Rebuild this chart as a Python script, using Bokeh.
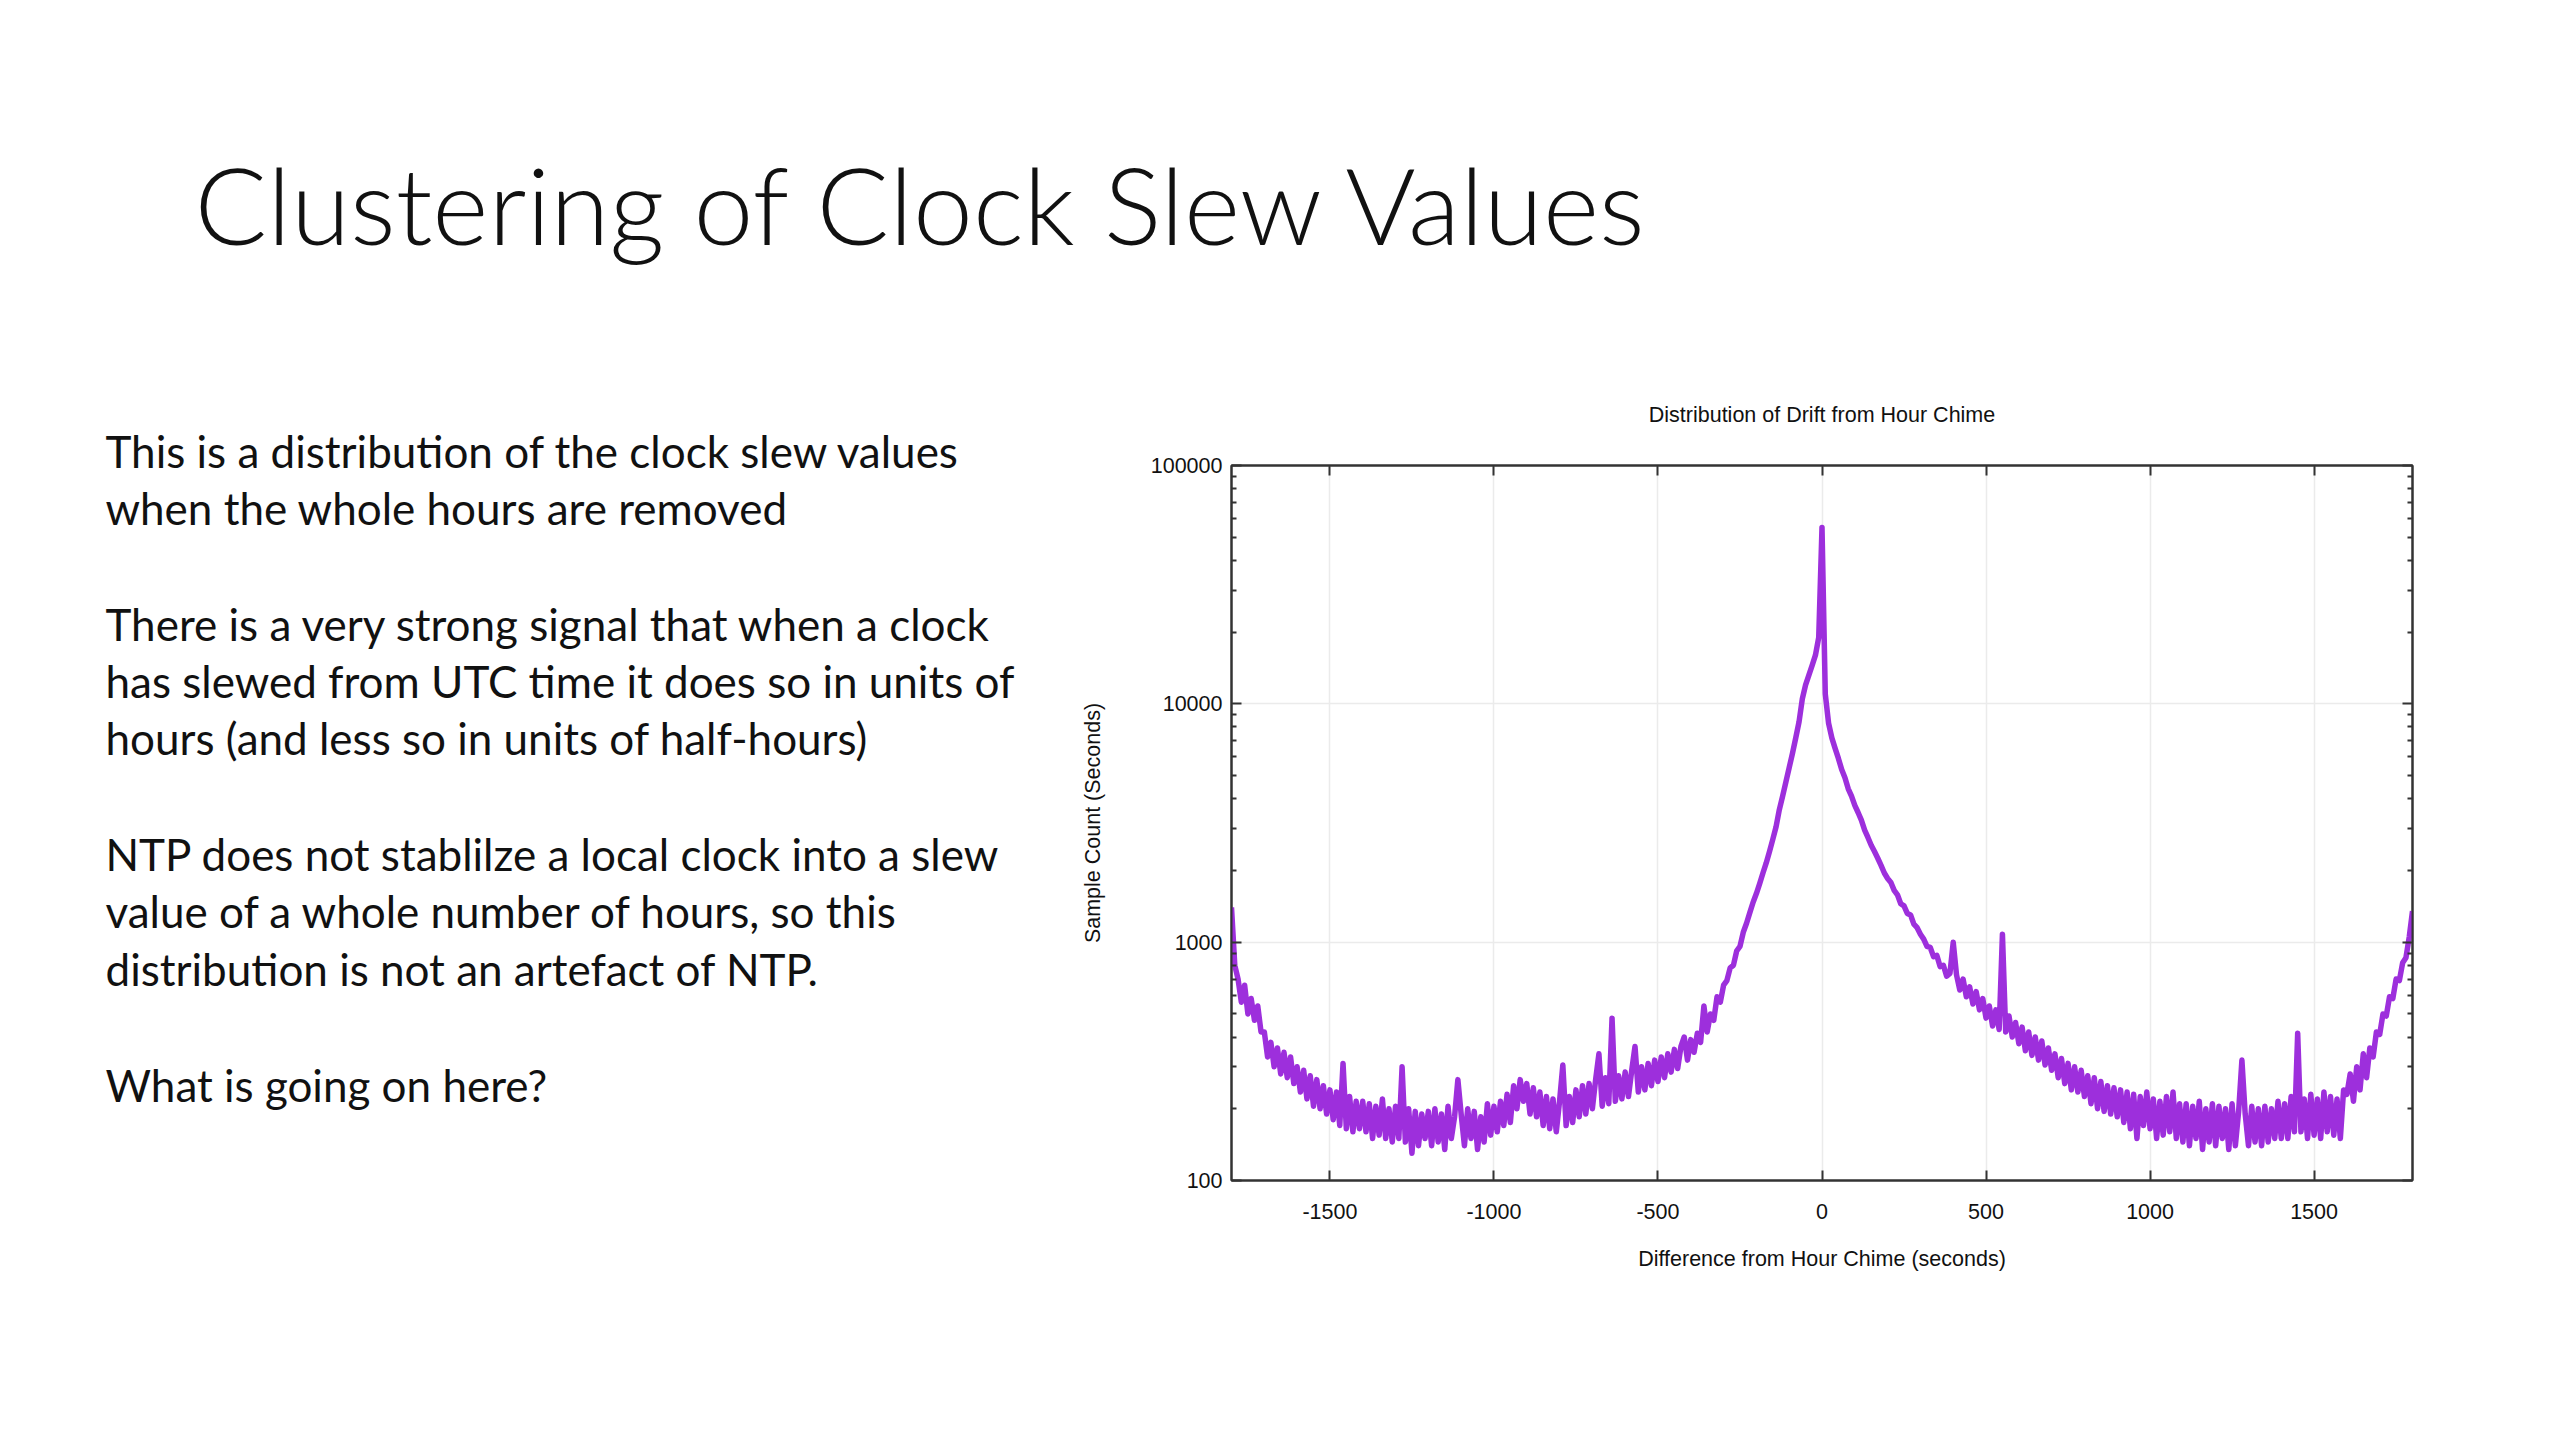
import numpy as np
from bokeh.plotting import figure
from bokeh.layouts import column, row
from bokeh.models import Range1d, FixedTicker, NumeralTickFormatter, LinearAxis, LogAxis, ColumnDataSource
from bokeh.core.properties import value
from bokeh.embed import file_html
from bokeh.resources import INLINE

# ---------------- data ----------------
slide_title = "Clustering of Clock Slew Values"
body_lines = [
    "This is a distribution of the clock slew values",
    "when the whole hours are removed",
    "There is a very strong signal that when a clock",
    "has slewed from UTC time it does so in units of",
    "hours (and less so in units of half-hours)",
    "NTP does not stablilze a local clock into a slew",
    "value of a whole number of hours, so this",
    "distribution is not an artefact of NTP.",
    "What is going on here?",
]
chart_title = "Distribution of Drift from Hour Chime"
x_label = "Difference from Hour Chime (seconds)"
y_label = "Sample Count (Seconds)"

bin_step = 10  # seconds per bin
# counts for bins -1800 .. -10
counts_left = [
    1400, 800, 700, 560, 660, 500, 580, 470, 540, 420,
    420, 330, 380, 300, 360, 280, 345, 270, 330, 255,
    300, 235, 290, 220, 275, 205, 265, 200, 250, 190,
    240, 180, 235, 170, 310, 165, 225, 160, 215, 165,
    215, 160, 210, 150, 205, 155, 220, 150, 200, 145,
    205, 150, 300, 145, 200, 130, 195, 140, 190, 150,
    195, 140, 200, 145, 190, 135, 205, 150, 185, 265,
    190, 140, 200, 150, 195, 135, 185, 145, 210, 155,
    205, 160, 215, 170, 230, 175, 250, 200, 265, 215,
    255, 190, 245, 185, 235, 170, 225, 165, 220, 160,
    215, 305, 170, 225, 175, 240, 185, 250, 190, 255,
    200, 265, 340, 205, 270, 210, 480, 215, 275, 220,
    285, 225, 290, 365, 235, 300, 240, 310, 250, 320,
    260, 330, 270, 340, 285, 355, 295, 365, 400, 320,
    390, 345, 415, 380, 540, 420, 500, 470, 590, 560,
    660, 690, 780, 800, 920, 960, 1100, 1200, 1330, 1470,
    1600, 1760, 1950, 2150, 2400, 2700, 3050, 3600, 4100, 4700,
    5400, 6200, 7200, 8400, 10500, 12000, 13200, 14500, 16000, 19000,
]
count_zero = [55000]
# counts for bins +10 .. +1800
counts_right = [
    11000, 8300, 7200, 6500, 5900, 5300, 4900, 4400, 4100, 3750,
    3500, 3250, 2950, 2750, 2550, 2400, 2250, 2100, 1950, 1850,
    1780, 1650, 1580, 1450, 1420, 1320, 1300, 1190, 1150, 1080,
    1030, 960, 950, 870, 880, 790, 800, 720, 740, 1000,
    730, 630, 700, 590, 650, 550, 620, 520, 580, 480,
    540, 445, 520, 430, 1080, 420, 490, 400, 460, 375,
    440, 350, 420, 335, 400, 320, 385, 305, 360, 290,
    340, 270, 325, 255, 310, 240, 300, 235, 290, 225,
    275, 210, 270, 200, 260, 195, 250, 190, 245, 185,
    240, 175, 235, 165, 230, 150, 225, 170, 235, 165,
    220, 150, 215, 155, 225, 160, 235, 150, 210, 145,
    210, 140, 205, 150, 215, 135, 200, 145, 210, 140,
    205, 150, 200, 135, 210, 140, 195, 320, 190, 140,
    205, 145, 200, 140, 205, 145, 200, 150, 215, 150,
    210, 150, 225, 160, 415, 160, 220, 150, 230, 155,
    220, 150, 235, 160, 225, 155, 220, 150, 240, 230,
    280, 215, 300, 240, 340, 270, 360, 330, 420, 410,
    500, 490, 590, 580, 700, 690, 820, 860, 1050, 1350,
]
x_ticks = [-1500, -1000, -500, 0, 500, 1000, 1500]
y_ticks = [100, 1000, 10000, 100000]
y_minor_mantissas = [2, 3, 4, 5, 6, 7, 8, 9]

counts = counts_left + count_zero + counts_right
n_left = len(counts_left)
bins = [bin_step * (i - n_left) for i in range(len(counts))]

# ---------------- layout (page px) ----------------
PAGE_W, PAGE_H = 2544, 1424
TOP_H = 380          # slide-title strip
LEFT_W = 1050        # body-text column
CT_H = 60            # chart-title strip above the chart
BODY_H = PAGE_H - TOP_H
FRAME_L, FRAME_R, FRAME_T, FRAME_B = 1231, 2412, 465, 1180

CHART_FONT = "Liberation Sans"
CHART_FS = "21.5px"


def no_align(f):
    if "frame_align" in f.properties():
        f.frame_align = False
    return f


def text_fig(w, h):
    f = figure(frame_width=w, frame_height=h, x_range=Range1d(0, w), y_range=Range1d(0, h),
               output_backend="svg", toolbar_location=None, min_border=0,
               x_axis_location=None, y_axis_location=None, title=None)
    f.outline_line_color = None
    f.grid.visible = False
    f.background_fill_color = "white"
    f.border_fill_color = "white"
    return no_align(f)


# slide title strip (page y measured from the top, converted to panel y)
top = text_fig(PAGE_W, TOP_H)
top.text(x=[194], y=[TOP_H - 203], text=[slide_title], text_font=value("Lato Light"),
         text_font_size="107.5px", text_color="#111111", text_baseline="alphabetic",
         text_align="left")

# body text column
left = text_fig(LEFT_W, BODY_H)
body_baselines = [466, 523, 639, 696, 753, 869, 926, 984, 1100]
left.text(x=[105] * len(body_lines), y=[BODY_H - (b - 16 - TOP_H) for b in body_baselines],
          text=body_lines, text_font=value("Lato"), text_font_size="44px",
          text_color="#111111", text_baseline="alphabetic", text_align="left")

# chart title strip
chart_w = PAGE_W - LEFT_W
ct = text_fig(chart_w, CT_H)
ct.text(x=[(FRAME_L + FRAME_R) / 2 - LEFT_W], y=[CT_H - (414 - TOP_H)], text=[chart_title],
        text_font=value(CHART_FONT), text_font_size=CHART_FS, text_color="#111111",
        text_baseline="alphabetic", text_align="center")

# ---------------- chart ----------------
chart_top = TOP_H + CT_H
p = figure(width=chart_w, height=PAGE_H - chart_top, y_axis_type="log",
           x_range=Range1d(-1800, 1800), y_range=Range1d(100, 100000),
           output_backend="svg", toolbar_location=None, title=None,
           min_border_left=FRAME_L - LEFT_W, min_border_right=PAGE_W - FRAME_R,
           min_border_top=FRAME_T - chart_top, min_border_bottom=PAGE_H - FRAME_B)
no_align(p)
p.background_fill_color = "white"
p.border_fill_color = "white"
p.outline_line_color = "#333333"
p.outline_line_width = 2

xt = FixedTicker(ticks=x_ticks, minor_ticks=[])
yminor = [m * d for d in y_ticks[:-1] for m in y_minor_mantissas]
yt = FixedTicker(ticks=y_ticks, minor_ticks=yminor)


def style_axis(ax, labels=True):
    ax.axis_line_color = "#333333"
    ax.axis_line_width = 2
    ax.major_tick_in = 10
    ax.major_tick_out = 0
    ax.minor_tick_in = 5
    ax.minor_tick_out = 0
    ax.major_tick_line_color = "#333333"
    ax.major_tick_line_width = 2
    ax.minor_tick_line_color = "#333333"
    ax.minor_tick_line_width = 2
    ax.major_label_text_font = CHART_FONT
    ax.major_label_text_font_size = CHART_FS if labels else "1px"
    ax.major_label_text_color = "#111111" if labels else None
    ax.axis_label_text_font = CHART_FONT
    ax.axis_label_text_font_size = CHART_FS
    ax.axis_label_text_font_style = "normal"
    ax.axis_label_text_color = "#111111"


xa = p.xaxis[0]
xa.ticker = xt
xa.formatter = NumeralTickFormatter(format="0")
xa.axis_label = x_label
style_axis(xa)
xa.major_label_standoff = 23
xa.axis_label_standoff = 25

ya = p.yaxis[0]
ya.ticker = yt
ya.formatter = NumeralTickFormatter(format="0")
ya.axis_label = y_label
style_axis(ya)
ya.major_label_standoff = 9
ya.axis_label_standoff = 43

xa2 = LinearAxis(ticker=xt, formatter=NumeralTickFormatter(format="0"))
style_axis(xa2, labels=False)
xa2.major_label_standoff = 0
p.add_layout(xa2, "above")
ya2 = LogAxis(ticker=yt, formatter=NumeralTickFormatter(format="0"))
style_axis(ya2, labels=False)
ya2.major_label_standoff = 0
p.add_layout(ya2, "right")

p.xgrid.ticker = xt
p.ygrid.ticker = yt
p.xgrid.grid_line_color = "#ebebeb"
p.ygrid.grid_line_color = "#ebebeb"
p.xgrid.grid_line_width = 1.5
p.ygrid.grid_line_width = 1.5

src = ColumnDataSource(dict(x=bins, y=counts))
p.line("x", "y", source=src, line_color="#9d2fdc", line_width=5.5, line_join="round")

layout = column(top, row(left, column(ct, p, spacing=0), spacing=0), spacing=0)

open("out.html", "w").write(file_html(layout, INLINE))
